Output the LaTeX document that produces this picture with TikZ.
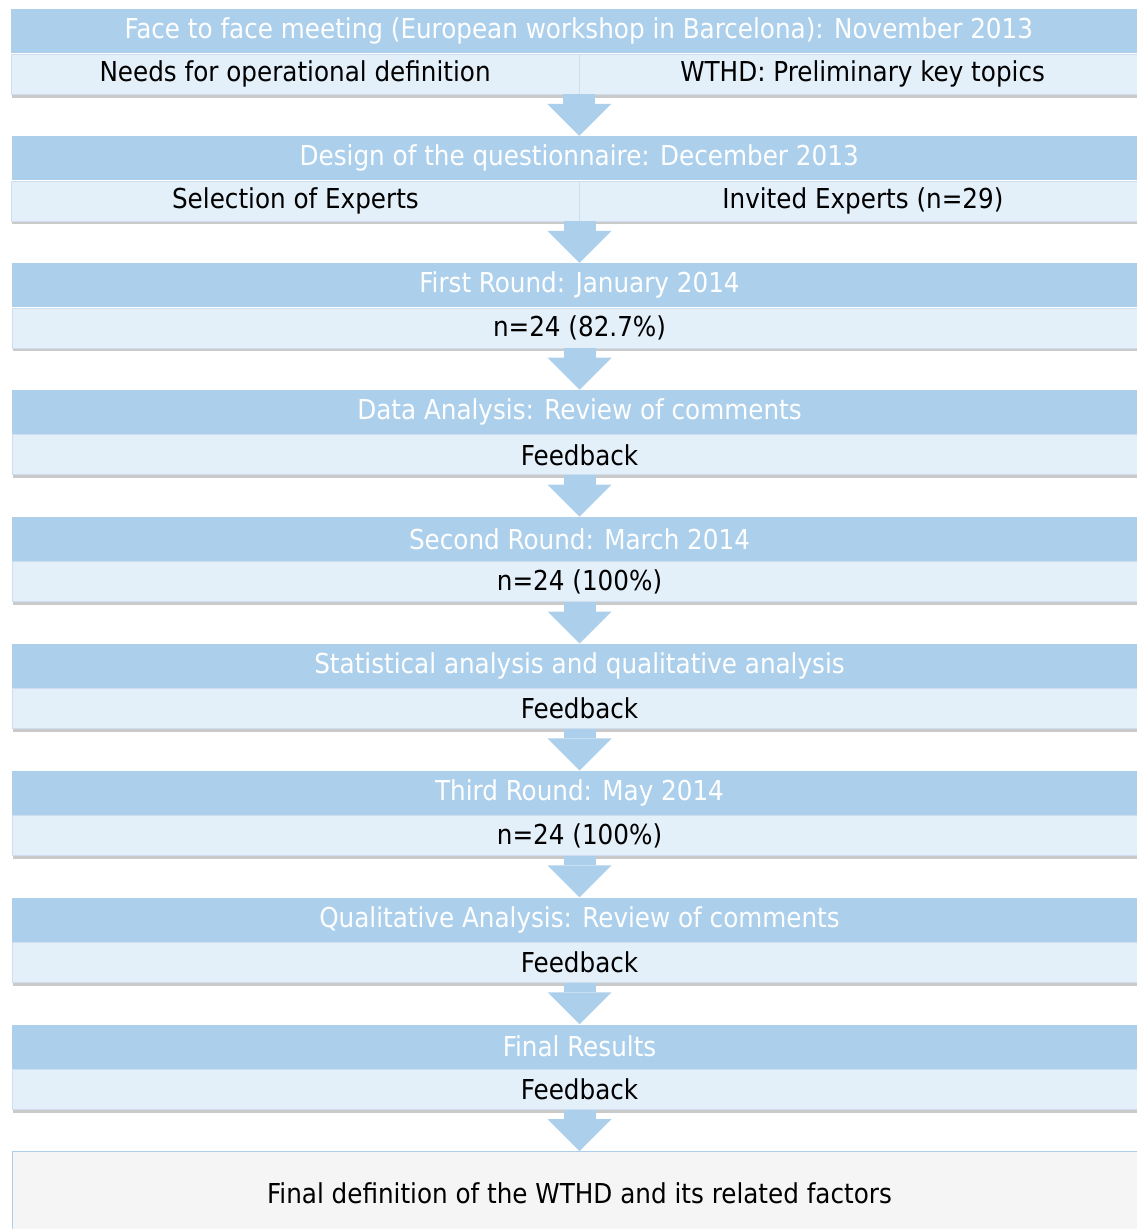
\documentclass[tikz,border=0pt]{standalone}
\usepackage{fontspec}
\setmainfont{DejaVu Sans Condensed}
\usetikzlibrary{
    arrows.meta,
    positioning,
    shadows
}
\definecolor{HeadBlue}{RGB}{172,208,236}
\definecolor{PaleBlue}{RGB}{227,239,249}
\definecolor{EdgeBlue}{RGB}{206,222,238}
\definecolor{SoftGray}{RGB}{245,245,245}

\begin{document}
\begin{tikzpicture}[
    head/.style={fill=HeadBlue, text=white, minimum width=22.7cm,
                 minimum height=0.88cm, inner sep=0pt, font=\fontsize{15.6}{18}\selectfont},
    sub/.style={draw=EdgeBlue, fill=PaleBlue, minimum width=22.7cm,
                minimum height=0.8cm, inner sep=0pt, font=\fontsize{15.6}{18}\selectfont,
                drop shadow={shadow xshift=0.4pt, shadow yshift=-2pt, opacity=0.35, fill=black!60}},
    half/.style={sub, minimum width=11.35cm},
    last/.style={draw=HeadBlue, fill=SoftGray, minimum width=22.7cm,
                 minimum height=1.68cm, inner sep=0pt, font=\fontsize{15.6}{18}\selectfont},
    down/.style={HeadBlue, line width=0.64cm,
                 -{Triangle[width=1.28cm, length=0.64cm, line width=0pt]}},
    node distance=0.83cm
]
\useasboundingbox (0,0) rectangle (22.74,-24.58);
\clip (0,0) rectangle (22.74,-24.58);

\node[head, anchor=north west] (hFace) at (0.22,-0.18)
      {Face to face meeting (European workshop in Barcelona): November 2013};
\node[half, anchor=north west] (sNeeds) at (hFace.south west) {Needs for operational definition};
\node[half, anchor=north east] (sTopics) at (hFace.south east) {WTHD: Preliminary key topics};

\node[head, below=of sNeeds.south east] (hDesign) {Design of the questionnaire: December 2013};
\node[half, anchor=north west] (sSelect) at (hDesign.south west) {Selection of Experts};
\node[half, anchor=north east] (sInvited) at (hDesign.south east) {Invited Experts (n=29)};

\node[head, below=of sSelect.south east] (hFirst) {First Round: January 2014};
\node[sub, below=0pt of hFirst] (sFirst) {n=24 (82.7\%)};

\node[head, below=of sFirst] (hData) {Data Analysis: Review of comments};
\node[sub, below=0pt of hData] (sData) {Feedback};

\node[head, below=of sData] (hSecond) {Second Round: March 2014};
\node[sub, below=0pt of hSecond] (sSecond) {n=24 (100\%)};

\node[head, below=of sSecond] (hStat) {Statistical analysis and qualitative analysis};
\node[sub, below=0pt of hStat] (sStat) {Feedback};

\node[head, below=of sStat] (hThird) {Third Round: May 2014};
\node[sub, below=0pt of hThird] (sThird) {n=24 (100\%)};

\node[head, below=of sThird] (hQual) {Qualitative Analysis: Review of comments};
\node[sub, below=0pt of hQual] (sQual) {Feedback};

\node[head, below=of sQual] (hResults) {Final Results};
\node[sub, below=0pt of hResults] (sResults) {Feedback};

\node[last, below=of sResults] (defn) {Final definition of the WTHD and its related factors};

% arrows between the stages
\draw[down] (sNeeds.south east) -- (hDesign.north);
\draw[down] (sSelect.south east) -- (hFirst.north);
\draw[down] (sFirst) -- (hData);
\draw[down] (sData) -- (hSecond);
\draw[down] (sSecond) -- (hStat);
\draw[down] (sStat) -- (hThird);
\draw[down] (sThird) -- (hQual);
\draw[down] (sQual) -- (hResults);
\draw[down] (sResults) -- (defn);
\end{tikzpicture}
\end{document}
